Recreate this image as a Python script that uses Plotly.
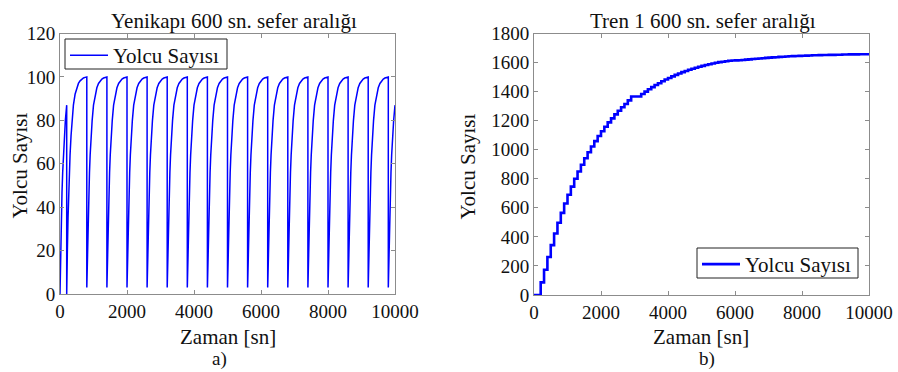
import plotly.graph_objects as go

# ---------------- data ----------------
# (a) Yenikapı station: passengers waiting, one departure every 600 s
departure_times = [200, 800, 1400, 2000, 2600, 3200, 3800, 4400, 5000,
                   5600, 6200, 6800, 7400, 8000, 8600, 9200, 9800]
# shape of one waiting cycle (seconds after a departure -> passengers)
cycle_dt = [0, 20, 40, 60, 80, 100, 130, 160, 200, 250, 300, 350, 400, 450, 500, 550, 600]
cycle_val = [3, 20, 35, 47, 56, 64, 73, 80, 87, 92, 95, 97, 98.2, 99, 99.5, 99.8, 100]
first_cycle_start = 0          # value at t = 0
first_drop_min = 0             # value right after the first departure
time_end = 10000

# (b) Tren 1: passengers on board, sampled every 100 s
train_t = list(range(0, 10001, 100))
train_val = [0, 0, 87, 174, 262, 343, 423, 497, 565, 630,
             690, 746, 800, 850, 897, 941, 983, 1022, 1059, 1094,
             1127, 1158, 1188, 1216, 1243, 1268, 1292, 1315, 1340, 1366,
             1366, 1366, 1384, 1400, 1416, 1431, 1445, 1458, 1471, 1483,
             1494, 1505, 1515, 1525, 1534, 1542, 1550, 1557, 1564, 1571,
             1577, 1583, 1588, 1594, 1599, 1603, 1606, 1609, 1612, 1614,
             1615, 1616, 1618, 1620, 1622, 1624, 1626, 1628, 1630, 1632,
             1634, 1636, 1637, 1639, 1640, 1642, 1643, 1644, 1645, 1646,
             1647, 1648, 1649, 1650, 1650, 1651, 1652, 1652, 1653, 1653,
             1654, 1654, 1655, 1655, 1656, 1656, 1656, 1657, 1657, 1657,
             1658]

# build sawtooth series for (a)
ya_x, ya_y = [], []
for dt, v in zip(cycle_dt, cycle_val):
    if dt > departure_times[0]:
        break
    ya_x.append(dt)
    ya_y.append(first_cycle_start if dt == 0 else v)
for i, d in enumerate(departure_times):
    for dt, v in zip(cycle_dt, cycle_val):
        t = d + dt
        if t > time_end:
            break
        ya_x.append(t)
        ya_y.append(first_drop_min if (dt == 0 and i == 0) else v)

FONT = "Liberation Serif"
BLUE = "#0000ff"
AX = "#8c8c8c"
TXT = "#111111"

fig = go.Figure()
fig.add_trace(go.Scatter(x=ya_x, y=ya_y, mode="lines", name="Yolcu Sayısı",
                         line=dict(color=BLUE, width=1.5), xaxis="x", yaxis="y",
                         legend="legend"))
fig.add_trace(go.Scatter(x=train_t, y=train_val, mode="lines", name="Yolcu Sayısı",
                         line=dict(color=BLUE, width=2.6, shape="hv"),
                         xaxis="x2", yaxis="y2", legend="legend2"))

W, H = 898, 372
def px(x): return x / W
def py(y): return 1 - y / H

common = dict(showgrid=False, zeroline=False, showline=True, linecolor=AX,
              linewidth=1, mirror="ticks", ticks="inside", ticklen=4,
              tickcolor=AX, tickformat="d", automargin=False,
              tickfont=dict(family=FONT, size=19, color=TXT))
big = dict(family=FONT, size=21, color=TXT)

def ann(text, x, y, angle=0, size=21):
    return dict(text=text, x=px(x), y=py(y), xref="paper", yref="paper",
                xanchor="center", yanchor="middle", showarrow=False,
                textangle=angle, font=dict(family=FONT, size=size, color=TXT))

leg_common = dict(xanchor="left", yanchor="top", bgcolor="rgba(0,0,0,0)",
                  borderwidth=0, font=big, tracegroupgap=0, itemwidth=38)

fig.update_layout(
    template="none",
    width=W, height=H, margin=dict(l=0, r=0, t=0, b=0, pad=0),
    paper_bgcolor="white", plot_bgcolor="white",
    font=dict(family=FONT, color=TXT),
    showlegend=True,
    xaxis=dict(domain=[px(60), px(395)], range=[0, 10000], dtick=2000,
               anchor="y", **common),
    yaxis=dict(domain=[py(294), py(33.5)], range=[0, 120], dtick=20,
               anchor="x", **common),
    xaxis2=dict(domain=[px(534), px(869)], range=[0, 10000], dtick=2000,
                anchor="y2", **common),
    yaxis2=dict(domain=[py(295), py(33.5)], range=[0, 1800], dtick=200,
                anchor="x2", **common),
    legend=dict(x=px(65), y=py(35), **leg_common),
    legend2=dict(x=px(697), y=py(244), **leg_common),
    shapes=[
        dict(type="rect", xref="paper", yref="paper", x0=px(65), x1=px(227),
             y0=py(69), y1=py(39), line=dict(color="#222", width=1),
             fillcolor="white", layer="below"),
        dict(type="rect", xref="paper", yref="paper", x0=px(697), x1=px(858),
             y0=py(278), y1=py(248), line=dict(color="#222", width=1),
             fillcolor="white", layer="below"),
    ],
    annotations=[
        ann("Yenikapı 600 sn. sefer aralığı", 234, 21),
        ann("Tren 1 600 sn. sefer aralığı", 703, 21),
        ann("Zaman [sn]", 228, 337),
        ann("Zaman [sn]", 700.5, 337),
        ann("Yolcu Sayısı", 19.5, 166, angle=-90),
        ann("Yolcu Sayısı", 467.5, 166, angle=-90),
        ann("a)", 219, 359, size=19),
        ann("b)", 707, 359, size=19),
    ],
)

fig.write_html("out.html", config={"displayModeBar": False},
               post_script="document.body.style.margin='0';document.body.style.overflow='hidden';")
